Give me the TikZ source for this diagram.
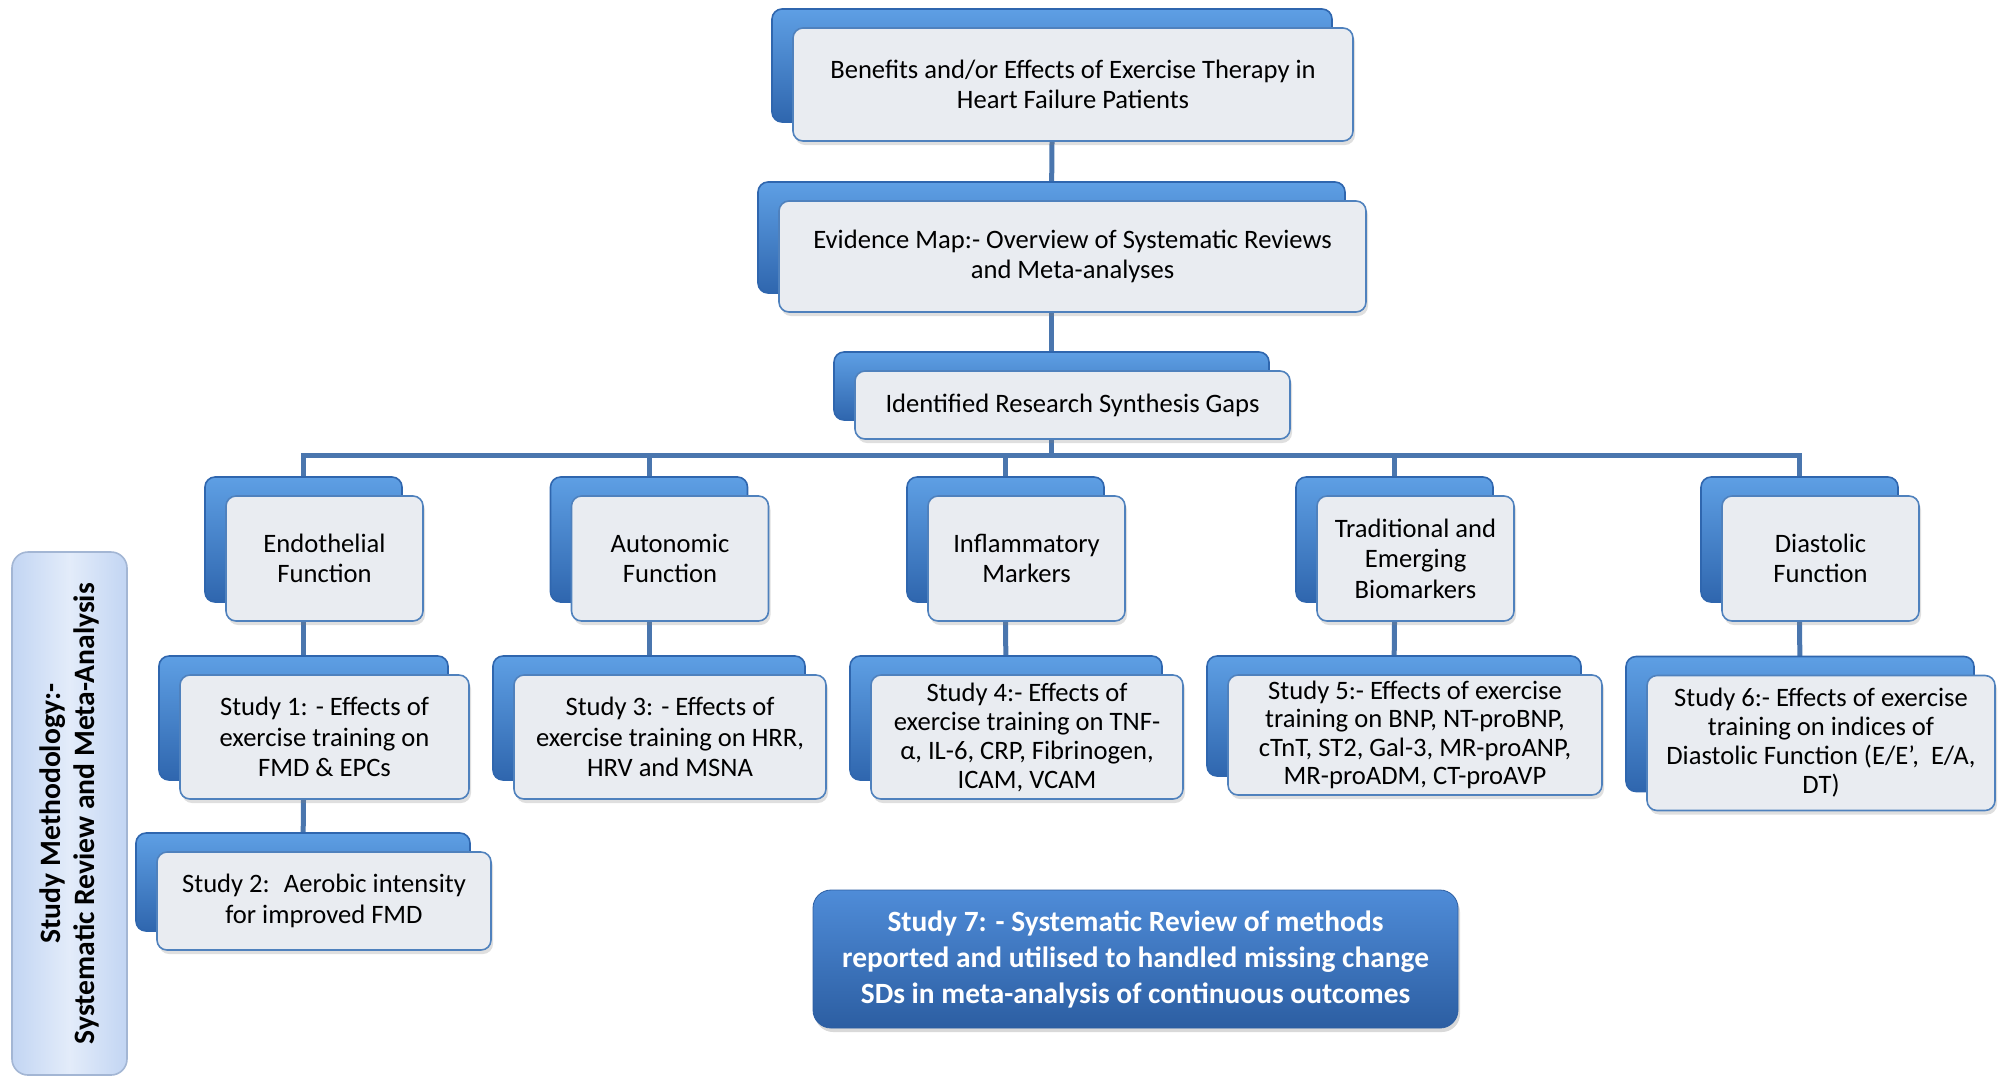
\documentclass[tikz,border=0pt]{standalone}
\usepackage{fontspec}
\setmainfont{Carlito}
\usetikzlibrary{shadows,backgrounds}

\definecolor{cardfill}{HTML}{E9ECF1}
\definecolor{cardline}{HTML}{4F81BD}
\definecolor{cardtop}{HTML}{5E9FE4}
\definecolor{cardbot}{HTML}{2F66AE}
\definecolor{linkblue}{HTML}{4A76AE}
\definecolor{sideA}{HTML}{C2D5F3}
\definecolor{sideB}{HTML}{E3ECFA}
\definecolor{sideline}{HTML}{A3B6D4}
\definecolor{keytop}{HTML}{4F8CD8}
\definecolor{keybot}{HTML}{2C5EA2}

\begin{document}
\begin{tikzpicture}[x=0.5pt,y=-0.5pt]

    \tikzstyle{card} = [thick, draw=cardline, fill=cardfill, rounded corners=5pt, align=center, inner sep=1pt, font=\fontsize{13.3}{15.3}\selectfont, drop shadow={shadow xshift=1pt, shadow yshift=-2pt, opacity=0.25}, copy shadow={shadow xshift=-10.5pt, shadow yshift=9.5pt, top color=cardtop, bottom color=cardbot, draw=cardbot}]
    \tikzstyle{link} = [draw=linkblue, line width=2.5pt]
    \tikzstyle{sidebox} = [thick, draw=sideline, rounded corners=8pt, left color=sideA, right color=sideA, middle color=sideB, align=center, font=\bfseries\fontsize{14.8}{17}\selectfont]
    \tikzstyle{keybox} = [draw=keybot, rounded corners=9pt, top color=keytop, bottom color=keybot, text=white, align=center, font=\bfseries\fontsize{14.7}{18}\selectfont, drop shadow={shadow xshift=1pt, shadow yshift=-2pt, opacity=0.3}]

    \useasboundingbox (0,0) rectangle (2005,1083);

    % top of the tree
    \node[card, minimum width=280pt, minimum height=56.5pt] (benefits) at (1073,84.5) {Benefits and/or Effects of Exercise Therapy in\\Heart Failure Patients};
    \node[card, minimum width=293.5pt, minimum height=55.5pt] (evidence) at (1072.5,256.5) {Evidence Map:- Overview of Systematic Reviews\\and Meta-analyses};
    \node[card, minimum width=217.5pt, minimum height=34pt] (gaps) at (1072.5,405) {Identified Research Synthesis Gaps};

    % level1
    \node[card, minimum width=98.5pt, minimum height=62.5pt] (endo) at (324.5,558.5) {Endothelial\\Function};
    \node[card, minimum width=98.5pt, minimum height=62.5pt] (auto) at (670,558.5) {Autonomic\\Function};
    \node[card, minimum width=98.5pt, minimum height=62.5pt] (infl) at (1026.5,558.5) {Inflammatory\\Markers};
    \node[card, minimum width=98.5pt, minimum height=62.5pt] (biom) at (1415.5,558.5) {Traditional and\\Emerging\\Biomarkers};
    \node[card, minimum width=98.5pt, minimum height=62.5pt] (dias) at (1820.5,558.5) {Diastolic\\Function};

    % level2
    \node[card, minimum width=144.5pt, minimum height=62pt] (s1) at (324.5,737) {Study 1: - Effects of\\exercise training on\\FMD \& EPCs};
    \node[card, minimum width=156pt, minimum height=62pt] (s3) at (670,737) {Study 3: - Effects of\\exercise training on HRR,\\HRV and MSNA};
    \node[card, minimum width=156pt, minimum height=62pt, inner sep=0pt, font=\fontsize{13.3}{14.5}\selectfont] (s4) at (1027,737) {Study 4:- Effects of\\exercise training on TNF-\\α, IL-6, CRP, Fibrinogen,\\ICAM, VCAM};
    \node[card, minimum width=187pt, minimum height=60pt, inner sep=0pt, font=\fontsize{13.3}{14.2}\selectfont] (s5) at (1415,735) {Study 5:- Effects of exercise\\training on BNP, NT-proBNP,\\cTnT, ST2, Gal-3, MR-proANP,\\MR-proADM, CT-proAVP};
    \node[card, minimum width=174pt, minimum height=67.5pt, inner sep=0pt, font=\fontsize{13.3}{14.5}\selectfont] (s6) at (1821,743) {Study 6:- Effects of exercise\\training on indices of\\Diastolic Function (E/E',~ E/A,\\DT)};

    % level3
    \node[card, minimum width=167pt, minimum height=49pt] (s2) at (324,901) {Study 2:~ Aerobic intensity\\for improved FMD};

    \node[keybox, minimum width=322.5pt, minimum height=69pt] (s7) at (1135.5,959) {Study 7: - Systematic Review of methods\\reported and utilised to handled missing change\\SDs in meta-analysis of continuous outcomes};

    \node[sidebox, rotate=90, minimum width=261.5pt, minimum height=57.5pt] (method) at (69.5,813.5) {Study Methodology:-\\Systematic Review and Meta-Analysis};

    \coordinate (bus) at (0,455);

    \begin{scope}[on background layer]
      % edge top to gaps
      \draw[link] ([xshift=-10.5pt]benefits.south) -- ([xshift=-10.5pt]evidence.north);
      \draw[link] ([xshift=-10.5pt]evidence.south) -- ([xshift=-10.5pt]gaps.north);

      % edge gaps to level1
      \draw[link] ([xshift=-10.5pt]gaps.south) -- ([xshift=-10.5pt]gaps.south |- bus) -| ([xshift=-10.5pt]endo.north);
      \draw[link] ([xshift=-10.5pt]gaps.south) -- ([xshift=-10.5pt]gaps.south |- bus) -| ([xshift=-10.5pt]auto.north);
      \draw[link] ([xshift=-10.5pt]gaps.south) -- ([xshift=-10.5pt]gaps.south |- bus) -| ([xshift=-10.5pt]infl.north);
      \draw[link] ([xshift=-10.5pt]gaps.south) -- ([xshift=-10.5pt]gaps.south |- bus) -| ([xshift=-10.5pt]biom.north);
      \draw[link] ([xshift=-10.5pt]gaps.south) -- ([xshift=-10.5pt]gaps.south |- bus) -| ([xshift=-10.5pt]dias.north);

      % edge level1 to level2
      \draw[link] ([xshift=-10.5pt]endo.south) -- ([xshift=-10.5pt]s1.north);
      \draw[link] ([xshift=-10.5pt]auto.south) -- ([xshift=-10.5pt]s3.north);
      \draw[link] ([xshift=-10.5pt]infl.south) -- ([xshift=-10.5pt]s4.north);
      \draw[link] ([xshift=-10.5pt]biom.south) -- ([xshift=-10.5pt]s5.north);
      \draw[link] ([xshift=-10.5pt]dias.south) -- ([xshift=-10.5pt]s6.north);

      % edge level2 to level3
      \draw[link] ([xshift=-10.5pt]s1.south) -- ([xshift=-10.5pt]s2.north);
    \end{scope}

\end{tikzpicture}
\end{document}
